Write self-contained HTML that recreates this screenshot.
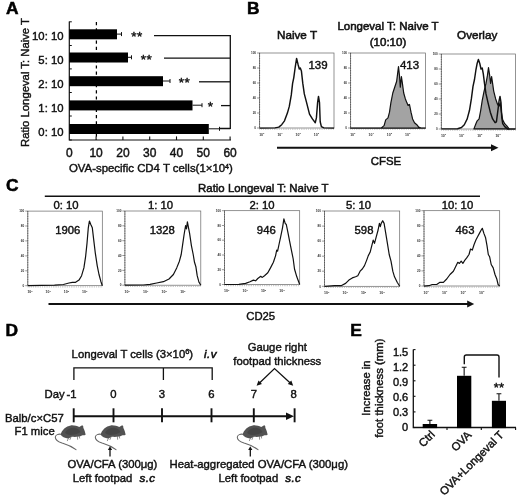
<!DOCTYPE html>
<html><head><meta charset="utf-8"><title>Figure</title>
<style>
html,body{margin:0;padding:0;background:#fff;}
svg{display:block}
text{font-family:"Liberation Sans", Arial, sans-serif;fill:#111;stroke:#111;stroke-width:0.42px;}
.b{font-weight:bold}
.i{font-style:italic}
.t{font-size:11.3px}
.pl{font-size:16.4px;font-weight:bold;fill:#000;stroke:#000;stroke-width:0.5px}
.tiny{font-size:3.5px;fill:#333;stroke:none;font-weight:bold}
.ln{stroke:#111;fill:none}
</style></head><body>
<svg width="520" height="495" viewBox="0 0 520 495">
<rect width="520" height="495" fill="#fff"/>

<g id="panelA">
<text class="pl" transform="translate(5.9,13.6) scale(1.06,1)">A</text>
<path class="ln" stroke-width="1.2" d="M69.3,21.5 V140 H231"/>
<path class="ln" stroke-width="1" d="M69.3,21.8 h2.5"/>
<path class="ln" stroke-width="1" d="M69.3,45.5 h2.5"/>
<path class="ln" stroke-width="1" d="M69.3,68.9 h2.5"/>
<path class="ln" stroke-width="1" d="M69.3,92.5 h2.5"/>
<path class="ln" stroke-width="1" d="M69.3,116 h2.5"/>
<path class="ln" stroke-width="1" d="M69.3,140 h2.5"/>
<path class="ln" style="stroke:#000" stroke-width="1.25" stroke-dasharray="3.2,3" d="M96.4,22.0 V140"/>
<rect x="69.3" y="29.3" width="47.7" height="10" fill="#000"/>
<path class="ln" stroke-width="1" d="M117,34.1 H121.5 M121.5,32.1 v4"/>
<text x="63.5" y="39.95" text-anchor="end" style="font-size:11.3px">10: 10</text>
<rect x="69.3" y="52.5" width="58.7" height="10" fill="#000"/>
<path class="ln" stroke-width="1" d="M128,57.3 H131.5 M131.5,55.3 v4"/>
<text x="63.5" y="63.85" text-anchor="end" style="font-size:11.3px">5: 10</text>
<rect x="69.3" y="76.2" width="93.7" height="10" fill="#000"/>
<path class="ln" stroke-width="1" d="M163,81 H170 M170,79 v4"/>
<text x="63.5" y="87.75" text-anchor="end" style="font-size:11.3px">2: 10</text>
<rect x="69.3" y="100.4" width="123.2" height="10" fill="#000"/>
<path class="ln" stroke-width="1" d="M192.5,105.2 H202 M202,103.2 v4"/>
<text x="63.5" y="111.65" text-anchor="end" style="font-size:11.3px">1: 10</text>
<rect x="69.3" y="124.00000000000001" width="139.5" height="10" fill="#000"/>
<path class="ln" stroke-width="1" d="M208.8,128.8 H219.5 M219.5,126.80000000000001 v4"/>
<text x="63.5" y="135.55" text-anchor="end" style="font-size:11.3px">0: 10</text>
<text x="137" y="41.300000000000004" text-anchor="middle" style="font-size:13.5px;letter-spacing:0.4px">**</text>
<path class="ln" stroke-width="1.3" d="M154,35.7 H230.3"/>
<text x="146.5" y="63.7" text-anchor="middle" style="font-size:13.5px;letter-spacing:0.4px">**</text>
<path class="ln" stroke-width="1.3" d="M164,58.1 H230.3"/>
<text x="184.5" y="87.39999999999999" text-anchor="middle" style="font-size:13.5px;letter-spacing:0.4px">**</text>
<path class="ln" stroke-width="1.3" d="M199,81.8 H230.3"/>
<text x="210.5" y="111.19999999999999" text-anchor="middle" style="font-size:13.5px;letter-spacing:0.4px">*</text>
<path class="ln" stroke-width="1.3" d="M221,105.6 H230.3"/>
<path class="ln" stroke-width="1.3" d="M219.5,128.5 H230.3 M230.3,35 V129.1"/>
<path class="ln" stroke-width="1.1" d="M96.1,140 v-3.6"/>
<path class="ln" stroke-width="1.1" d="M122.9,140 v-3.6"/>
<path class="ln" stroke-width="1.1" d="M149.7,140 v-3.6"/>
<path class="ln" stroke-width="1.1" d="M176.5,140 v-3.6"/>
<path class="ln" stroke-width="1.1" d="M203.3,140 v-3.6"/>
<path class="ln" stroke-width="1.1" d="M230.1,140 v-3.6"/>
<text x="69.3" y="156.9" text-anchor="middle" style="font-size:12px">0</text>
<text x="96.1" y="156.9" text-anchor="middle" style="font-size:12px">10</text>
<text x="122.9" y="156.9" text-anchor="middle" style="font-size:12px">20</text>
<text x="149.7" y="156.9" text-anchor="middle" style="font-size:12px">30</text>
<text x="176.5" y="156.9" text-anchor="middle" style="font-size:12px">40</text>
<text x="203.3" y="156.9" text-anchor="middle" style="font-size:12px">50</text>
<text x="230.1" y="156.9" text-anchor="middle" style="font-size:12px">60</text>
<text x="69" y="172" style="font-size:11.4px">OVA-specific CD4 T cells(1×10<tspan dy="-3.5" style="font-size:7px">4</tspan><tspan dy="3.5">)</tspan></text>
<text transform="translate(28.7,82.5) rotate(-90)" text-anchor="middle" style="font-size:11.3px">Ratio Longeval T: Naive T</text>
</g>
<g id="panelB">
<text class="pl" transform="translate(247,14.3) scale(1.06,1)">B</text>
<rect x="259.6" y="53" width="74.39999999999998" height="75" fill="none" stroke="#666" stroke-width="0.7"/>
<path d="M259.6,53 V128" stroke="#444" stroke-width="0.9" stroke-dasharray="0.8,0.9" fill="none"/>
<text class="tiny" x="256.1" y="54.2" text-anchor="end" style="font-size:3.1px">100</text>
<path d="M257.0,53.0 h2.6" stroke="#555" stroke-width="0.6"/>
<text class="tiny" x="256.1" y="69.2" text-anchor="end" style="font-size:3.1px">80</text>
<path d="M257.0,68.0 h2.6" stroke="#555" stroke-width="0.6"/>
<text class="tiny" x="256.1" y="84.2" text-anchor="end" style="font-size:3.1px">60</text>
<path d="M257.0,83.0 h2.6" stroke="#555" stroke-width="0.6"/>
<text class="tiny" x="256.1" y="99.2" text-anchor="end" style="font-size:3.1px">40</text>
<path d="M257.0,98.0 h2.6" stroke="#555" stroke-width="0.6"/>
<text class="tiny" x="256.1" y="114.2" text-anchor="end" style="font-size:3.1px">20</text>
<path d="M257.0,113.0 h2.6" stroke="#555" stroke-width="0.6"/>
<text class="tiny" x="256.1" y="129.2" text-anchor="end" style="font-size:3.1px">0</text>
<path d="M257.0,128.0 h2.6" stroke="#555" stroke-width="0.6"/>
<path d="M259.6,129.1 H334" stroke="#999" stroke-width="1.3" stroke-dasharray="0.5,1.3" fill="none"/>
<text class="tiny" x="261.8" y="135.6" text-anchor="middle">10<tspan dy="-1.3" style="font-size:2.4px">0</tspan></text>
<text class="tiny" x="280.0" y="135.6" text-anchor="middle">10<tspan dy="-1.3" style="font-size:2.4px">1</tspan></text>
<text class="tiny" x="298.2" y="135.6" text-anchor="middle">10<tspan dy="-1.3" style="font-size:2.4px">2</tspan></text>
<text class="tiny" x="316.4" y="135.6" text-anchor="middle">10<tspan dy="-1.3" style="font-size:2.4px">3</tspan></text>
<rect x="350.6" y="53" width="74.79999999999995" height="75" fill="none" stroke="#666" stroke-width="0.7"/>
<path d="M350.6,53 V128" stroke="#444" stroke-width="0.9" stroke-dasharray="0.8,0.9" fill="none"/>
<text class="tiny" x="347.1" y="54.2" text-anchor="end" style="font-size:3.1px">100</text>
<path d="M348.0,53.0 h2.6" stroke="#555" stroke-width="0.6"/>
<text class="tiny" x="347.1" y="69.2" text-anchor="end" style="font-size:3.1px">80</text>
<path d="M348.0,68.0 h2.6" stroke="#555" stroke-width="0.6"/>
<text class="tiny" x="347.1" y="84.2" text-anchor="end" style="font-size:3.1px">60</text>
<path d="M348.0,83.0 h2.6" stroke="#555" stroke-width="0.6"/>
<text class="tiny" x="347.1" y="99.2" text-anchor="end" style="font-size:3.1px">40</text>
<path d="M348.0,98.0 h2.6" stroke="#555" stroke-width="0.6"/>
<text class="tiny" x="347.1" y="114.2" text-anchor="end" style="font-size:3.1px">20</text>
<path d="M348.0,113.0 h2.6" stroke="#555" stroke-width="0.6"/>
<text class="tiny" x="347.1" y="129.2" text-anchor="end" style="font-size:3.1px">0</text>
<path d="M348.0,128.0 h2.6" stroke="#555" stroke-width="0.6"/>
<path d="M350.6,129.1 H425.4" stroke="#999" stroke-width="1.3" stroke-dasharray="0.5,1.3" fill="none"/>
<text class="tiny" x="352.8" y="135.6" text-anchor="middle">10<tspan dy="-1.3" style="font-size:2.4px">0</tspan></text>
<text class="tiny" x="371.1" y="135.6" text-anchor="middle">10<tspan dy="-1.3" style="font-size:2.4px">1</tspan></text>
<text class="tiny" x="389.4" y="135.6" text-anchor="middle">10<tspan dy="-1.3" style="font-size:2.4px">2</tspan></text>
<text class="tiny" x="407.7" y="135.6" text-anchor="middle">10<tspan dy="-1.3" style="font-size:2.4px">3</tspan></text>
<rect x="441.3" y="54" width="74.30000000000001" height="75" fill="none" stroke="#666" stroke-width="0.7"/>
<path d="M441.3,54 V129" stroke="#444" stroke-width="0.9" stroke-dasharray="0.8,0.9" fill="none"/>
<text class="tiny" x="437.8" y="55.2" text-anchor="end" style="font-size:3.1px">100</text>
<path d="M438.7,54.0 h2.6" stroke="#555" stroke-width="0.6"/>
<text class="tiny" x="437.8" y="70.2" text-anchor="end" style="font-size:3.1px">80</text>
<path d="M438.7,69.0 h2.6" stroke="#555" stroke-width="0.6"/>
<text class="tiny" x="437.8" y="85.2" text-anchor="end" style="font-size:3.1px">60</text>
<path d="M438.7,84.0 h2.6" stroke="#555" stroke-width="0.6"/>
<text class="tiny" x="437.8" y="100.2" text-anchor="end" style="font-size:3.1px">40</text>
<path d="M438.7,99.0 h2.6" stroke="#555" stroke-width="0.6"/>
<text class="tiny" x="437.8" y="115.2" text-anchor="end" style="font-size:3.1px">20</text>
<path d="M438.7,114.0 h2.6" stroke="#555" stroke-width="0.6"/>
<text class="tiny" x="437.8" y="130.2" text-anchor="end" style="font-size:3.1px">0</text>
<path d="M438.7,129.0 h2.6" stroke="#555" stroke-width="0.6"/>
<path d="M441.3,130.1 H515.6" stroke="#999" stroke-width="1.3" stroke-dasharray="0.5,1.3" fill="none"/>
<text class="tiny" x="443.5" y="136.6" text-anchor="middle">10<tspan dy="-1.3" style="font-size:2.4px">0</tspan></text>
<text class="tiny" x="461.7" y="136.6" text-anchor="middle">10<tspan dy="-1.3" style="font-size:2.4px">1</tspan></text>
<text class="tiny" x="479.8" y="136.6" text-anchor="middle">10<tspan dy="-1.3" style="font-size:2.4px">2</tspan></text>
<text class="tiny" x="498.0" y="136.6" text-anchor="middle">10<tspan dy="-1.3" style="font-size:2.4px">3</tspan></text>
<polyline class="ln" stroke-width="1.45" stroke-linejoin="round" points="259.6,128.1 275.0,127.9 278.8,127.1 281.7,124.7 284.5,120.8 287.4,113.1 289.3,106.4 291.3,94.9 292.6,83.4 293.8,77.6 295.1,68.0 296.6,58.4 298.0,64.2 299.3,69.0 300.3,68.0 301.4,70.9 302.8,83.4 304.3,93.9 306.6,102.6 309.5,114.1 312.4,118.9 315.3,122.7 316.4,117.9 317.6,102.6 318.5,96.4 319.5,102.6 320.2,121.8 321.4,126.6 323.9,127.9 334.1,128.1"/>
<polygon fill="#a3a3a3" stroke="#111" stroke-width="1.2" stroke-linejoin="round" points="350.6,128.1 381.3,127.9 384.1,125.6 385.7,119.9 388.0,117.9 389.5,112.2 390.9,102.6 392.8,93.0 394.7,87.2 396.6,81.5 397.6,73.8 398.5,66.5 399.5,75.7 400.3,87.2 401.4,76.7 402.4,83.4 403.7,93.0 405.3,98.7 406.8,102.6 408.1,105.5 409.5,104.5 411.0,112.2 412.6,118.9 414.5,122.7 416.8,124.7 418.7,127.1 420.6,127.9 425.4,128.1"/>
<polygon fill="#a3a3a3" stroke="#111" stroke-width="1.2" stroke-linejoin="round" points="473.9,128.9 475.9,123.7 477.2,120.8 479.1,118.9 480.7,110.3 482.2,100.7 484.1,91.1 486.0,83.4 487.4,75.7 488.5,67.6 489.7,75.7 490.6,83.4 491.6,76.7 492.6,83.4 493.7,91.1 495.6,98.7 497.6,104.5 498.9,106.4 500.2,102.6 501.4,112.2 502.7,119.9 504.7,123.7 506.6,125.6 509.1,128.9"/>
<polyline class="ln" stroke-width="1.45" stroke-linejoin="round" points="441.3,128.9 457.6,128.7 461.5,127.5 464.3,124.7 467.2,118.9 469.5,110.3 471.4,98.7 473.0,86.3 474.5,79.5 475.9,70.0 477.2,63.2 478.4,59.4 479.7,63.2 481.0,69.0 482.2,68.0 483.3,73.8 484.5,83.4 486.0,93.9 488.0,102.6 490.3,112.2 492.6,118.9 495.1,122.7 496.4,121.8 497.9,110.3 499.1,100.7 500.0,96.4 501.0,102.6 501.8,117.9 502.7,123.7 504.7,126.6 507.5,128.9 515.6,128.9"/>
<text x="297" y="39" text-anchor="middle" style="font-size:11.7px;stroke-width:0.55px">Naive T</text>
<text x="388" y="30" text-anchor="middle" style="font-size:11.5px;stroke-width:0.55px">Longeval T: Naive T</text>
<text x="388" y="46" text-anchor="middle" style="font-size:11.5px;stroke-width:0.55px">(10:10)</text>
<text x="477.2" y="39" text-anchor="middle" style="font-size:11.7px;stroke-width:0.55px">Overlay</text>
<text x="318" y="68.6" text-anchor="middle" style="font-size:11.5px">139</text>
<text x="409.5" y="69" text-anchor="middle" style="font-size:11.5px">413</text>
<path d="M277,147.8 H492" stroke="#111" stroke-width="2" fill="none"/><path d="M498.5,147.8 l-7.5,-3.5 v7 z" fill="#111"/>
<text x="386" y="164.8" text-anchor="middle" style="font-size:11.4px;stroke-width:0.5px">CFSE</text>
</g>
<g id="panelC">
<text class="pl" transform="translate(5.9,191) scale(1.06,1)">C</text>
<path d="M44.8,196.2 H480" stroke="#111" stroke-width="1.4"/>
<text x="263.3" y="191.6" text-anchor="middle" style="font-size:11.45px;stroke-width:0.5px">Ratio Longeval T: Naive T</text>
<rect x="27.8" y="211.1" width="74.5" height="74.6" fill="none" stroke="#666" stroke-width="0.7"/>
<path d="M27.8,211.1 V285.7" stroke="#444" stroke-width="0.9" stroke-dasharray="0.8,0.9" fill="none"/>
<text class="tiny" x="24.3" y="212.3" text-anchor="end" style="font-size:3.1px">100</text>
<path d="M25.2,211.1 h2.6" stroke="#555" stroke-width="0.6"/>
<text class="tiny" x="24.3" y="227.2" text-anchor="end" style="font-size:3.1px">80</text>
<path d="M25.2,226.0 h2.6" stroke="#555" stroke-width="0.6"/>
<text class="tiny" x="24.3" y="242.1" text-anchor="end" style="font-size:3.1px">60</text>
<path d="M25.2,240.9 h2.6" stroke="#555" stroke-width="0.6"/>
<text class="tiny" x="24.3" y="257.1" text-anchor="end" style="font-size:3.1px">40</text>
<path d="M25.2,255.9 h2.6" stroke="#555" stroke-width="0.6"/>
<text class="tiny" x="24.3" y="272.0" text-anchor="end" style="font-size:3.1px">20</text>
<path d="M25.2,270.8 h2.6" stroke="#555" stroke-width="0.6"/>
<text class="tiny" x="24.3" y="286.9" text-anchor="end" style="font-size:3.1px">0</text>
<path d="M25.2,285.7 h2.6" stroke="#555" stroke-width="0.6"/>
<path d="M27.8,286.8 H102.3" stroke="#999" stroke-width="1.3" stroke-dasharray="0.5,1.3" fill="none"/>
<text class="tiny" x="30.0" y="293.3" text-anchor="middle">10<tspan dy="-1.3" style="font-size:2.4px">0</tspan></text>
<text class="tiny" x="48.2" y="293.3" text-anchor="middle">10<tspan dy="-1.3" style="font-size:2.4px">1</tspan></text>
<text class="tiny" x="66.4" y="293.3" text-anchor="middle">10<tspan dy="-1.3" style="font-size:2.4px">2</tspan></text>
<text class="tiny" x="84.6" y="293.3" text-anchor="middle">10<tspan dy="-1.3" style="font-size:2.4px">3</tspan></text>
<polyline class="ln" stroke-width="1.2" stroke-linejoin="round" points="27.8,285.7 54.5,285.2 63.4,284.5 69.0,283.0 72.3,282.3 75.6,282.3 79.0,280.1 81.6,275.7 83.9,267.9 85.6,256.7 87.0,243.4 88.3,227.8 89.4,221.1 90.8,224.5 92.3,227.8 93.6,238.9 95.2,252.3 97.2,265.6 99.0,274.5 100.8,281.2 102.3,285.7"/>
<text x="66" y="208.8" text-anchor="middle" style="font-size:11.3px">0: 10</text>
<text x="67.8" y="234" text-anchor="middle" style="font-size:11.3px">1906</text>
<rect x="124.9" y="211" width="75.9" height="74.19999999999999" fill="none" stroke="#666" stroke-width="0.7"/>
<path d="M124.9,211 V285.2" stroke="#444" stroke-width="0.9" stroke-dasharray="0.8,0.9" fill="none"/>
<text class="tiny" x="121.4" y="212.2" text-anchor="end" style="font-size:3.1px">100</text>
<path d="M122.30000000000001,211.0 h2.6" stroke="#555" stroke-width="0.6"/>
<text class="tiny" x="121.4" y="227.0" text-anchor="end" style="font-size:3.1px">80</text>
<path d="M122.30000000000001,225.8 h2.6" stroke="#555" stroke-width="0.6"/>
<text class="tiny" x="121.4" y="241.9" text-anchor="end" style="font-size:3.1px">60</text>
<path d="M122.30000000000001,240.7 h2.6" stroke="#555" stroke-width="0.6"/>
<text class="tiny" x="121.4" y="256.7" text-anchor="end" style="font-size:3.1px">40</text>
<path d="M122.30000000000001,255.5 h2.6" stroke="#555" stroke-width="0.6"/>
<text class="tiny" x="121.4" y="271.6" text-anchor="end" style="font-size:3.1px">20</text>
<path d="M122.30000000000001,270.4 h2.6" stroke="#555" stroke-width="0.6"/>
<text class="tiny" x="121.4" y="286.4" text-anchor="end" style="font-size:3.1px">0</text>
<path d="M122.30000000000001,285.2 h2.6" stroke="#555" stroke-width="0.6"/>
<path d="M124.9,286.3 H200.8" stroke="#999" stroke-width="1.3" stroke-dasharray="0.5,1.3" fill="none"/>
<text class="tiny" x="127.1" y="292.8" text-anchor="middle">10<tspan dy="-1.3" style="font-size:2.4px">0</tspan></text>
<text class="tiny" x="145.7" y="292.8" text-anchor="middle">10<tspan dy="-1.3" style="font-size:2.4px">1</tspan></text>
<text class="tiny" x="164.2" y="292.8" text-anchor="middle">10<tspan dy="-1.3" style="font-size:2.4px">2</tspan></text>
<text class="tiny" x="182.8" y="292.8" text-anchor="middle">10<tspan dy="-1.3" style="font-size:2.4px">3</tspan></text>
<polyline class="ln" stroke-width="1.2" stroke-linejoin="round" points="124.9,285.2 143.4,285.0 150.0,284.3 156.7,283.0 163.4,281.7 169.0,279.0 173.4,274.5 176.7,267.9 179.4,261.2 181.2,254.5 182.5,245.6 184.1,234.5 185.6,225.6 186.5,228.9 187.4,221.8 188.3,226.7 189.6,233.4 191.4,245.6 193.2,254.5 194.5,262.3 195.9,266.8 197.2,275.7 199.0,282.3 200.8,285.2"/>
<text x="160.5" y="208.8" text-anchor="middle" style="font-size:11.3px">1: 10</text>
<text x="162.3" y="234" text-anchor="middle" style="font-size:11.3px">1328</text>
<rect x="224.5" y="210.7" width="75.19999999999999" height="73.80000000000001" fill="none" stroke="#666" stroke-width="0.7"/>
<path d="M224.5,210.7 V284.5" stroke="#444" stroke-width="0.9" stroke-dasharray="0.8,0.9" fill="none"/>
<text class="tiny" x="221.0" y="211.9" text-anchor="end" style="font-size:3.1px">100</text>
<path d="M221.9,210.7 h2.6" stroke="#555" stroke-width="0.6"/>
<text class="tiny" x="221.0" y="226.7" text-anchor="end" style="font-size:3.1px">80</text>
<path d="M221.9,225.5 h2.6" stroke="#555" stroke-width="0.6"/>
<text class="tiny" x="221.0" y="241.4" text-anchor="end" style="font-size:3.1px">60</text>
<path d="M221.9,240.2 h2.6" stroke="#555" stroke-width="0.6"/>
<text class="tiny" x="221.0" y="256.2" text-anchor="end" style="font-size:3.1px">40</text>
<path d="M221.9,255.0 h2.6" stroke="#555" stroke-width="0.6"/>
<text class="tiny" x="221.0" y="270.9" text-anchor="end" style="font-size:3.1px">20</text>
<path d="M221.9,269.7 h2.6" stroke="#555" stroke-width="0.6"/>
<text class="tiny" x="221.0" y="285.7" text-anchor="end" style="font-size:3.1px">0</text>
<path d="M221.9,284.5 h2.6" stroke="#555" stroke-width="0.6"/>
<path d="M224.5,285.6 H299.7" stroke="#999" stroke-width="1.3" stroke-dasharray="0.5,1.3" fill="none"/>
<text class="tiny" x="226.7" y="292.1" text-anchor="middle">10<tspan dy="-1.3" style="font-size:2.4px">0</tspan></text>
<text class="tiny" x="245.1" y="292.1" text-anchor="middle">10<tspan dy="-1.3" style="font-size:2.4px">1</tspan></text>
<text class="tiny" x="263.5" y="292.1" text-anchor="middle">10<tspan dy="-1.3" style="font-size:2.4px">2</tspan></text>
<text class="tiny" x="281.9" y="292.1" text-anchor="middle">10<tspan dy="-1.3" style="font-size:2.4px">3</tspan></text>
<polyline class="ln" stroke-width="1.2" stroke-linejoin="round" points="224.5,284.5 238.9,284.3 245.6,283.4 250.0,281.7 253.4,280.1 255.6,280.8 257.8,278.5 260.7,276.3 262.3,277.4 264.5,275.7 267.8,272.8 270.5,267.9 273.4,262.3 275.6,255.6 276.7,250.1 277.6,251.2 279.0,244.5 280.7,236.7 282.5,227.8 283.9,218.9 285.2,223.4 286.3,224.5 287.9,232.3 289.6,241.2 291.4,250.1 293.2,259.0 294.5,269.0 296.8,276.8 299.7,284.5"/>
<text x="262" y="208.8" text-anchor="middle" style="font-size:11.3px">2: 10</text>
<text x="266.3" y="234" text-anchor="middle" style="font-size:11.3px">946</text>
<rect x="324.5" y="211" width="75.19999999999999" height="75.30000000000001" fill="none" stroke="#666" stroke-width="0.7"/>
<path d="M324.5,211 V286.3" stroke="#444" stroke-width="0.9" stroke-dasharray="0.8,0.9" fill="none"/>
<text class="tiny" x="321.0" y="212.2" text-anchor="end" style="font-size:3.1px">100</text>
<path d="M321.9,211.0 h2.6" stroke="#555" stroke-width="0.6"/>
<text class="tiny" x="321.0" y="227.3" text-anchor="end" style="font-size:3.1px">80</text>
<path d="M321.9,226.1 h2.6" stroke="#555" stroke-width="0.6"/>
<text class="tiny" x="321.0" y="242.3" text-anchor="end" style="font-size:3.1px">60</text>
<path d="M321.9,241.1 h2.6" stroke="#555" stroke-width="0.6"/>
<text class="tiny" x="321.0" y="257.4" text-anchor="end" style="font-size:3.1px">40</text>
<path d="M321.9,256.2 h2.6" stroke="#555" stroke-width="0.6"/>
<text class="tiny" x="321.0" y="272.4" text-anchor="end" style="font-size:3.1px">20</text>
<path d="M321.9,271.2 h2.6" stroke="#555" stroke-width="0.6"/>
<text class="tiny" x="321.0" y="287.5" text-anchor="end" style="font-size:3.1px">0</text>
<path d="M321.9,286.3 h2.6" stroke="#555" stroke-width="0.6"/>
<path d="M324.5,287.40000000000003 H399.7" stroke="#999" stroke-width="1.3" stroke-dasharray="0.5,1.3" fill="none"/>
<text class="tiny" x="326.7" y="293.90000000000003" text-anchor="middle">10<tspan dy="-1.3" style="font-size:2.4px">0</tspan></text>
<text class="tiny" x="345.1" y="293.90000000000003" text-anchor="middle">10<tspan dy="-1.3" style="font-size:2.4px">1</tspan></text>
<text class="tiny" x="363.5" y="293.90000000000003" text-anchor="middle">10<tspan dy="-1.3" style="font-size:2.4px">2</tspan></text>
<text class="tiny" x="381.9" y="293.90000000000003" text-anchor="middle">10<tspan dy="-1.3" style="font-size:2.4px">3</tspan></text>
<polyline class="ln" stroke-width="1.2" stroke-linejoin="round" points="324.5,286.3 334.5,285.7 341.1,285.7 345.6,283.4 348.9,280.1 352.3,277.9 355.6,276.8 357.8,275.7 360.1,271.2 362.3,269.0 364.5,265.6 366.7,260.1 368.3,255.6 370.1,252.3 371.8,245.6 373.2,240.1 374.5,243.4 376.3,236.7 378.1,230.0 379.4,223.4 380.3,226.7 381.2,223.4 382.7,220.7 384.1,223.4 385.6,232.3 387.4,243.4 389.2,254.5 391.0,261.2 392.8,271.2 394.5,276.8 397.2,282.3 399.7,286.3"/>
<text x="358.5" y="208.8" text-anchor="middle" style="font-size:11.3px">5: 10</text>
<text x="364" y="234" text-anchor="middle" style="font-size:11.3px">598</text>
<rect x="424" y="210.7" width="75.69999999999999" height="75.30000000000001" fill="none" stroke="#666" stroke-width="0.7"/>
<path d="M424,210.7 V286" stroke="#444" stroke-width="0.9" stroke-dasharray="0.8,0.9" fill="none"/>
<text class="tiny" x="420.5" y="211.9" text-anchor="end" style="font-size:3.1px">100</text>
<path d="M421.4,210.7 h2.6" stroke="#555" stroke-width="0.6"/>
<text class="tiny" x="420.5" y="227.0" text-anchor="end" style="font-size:3.1px">80</text>
<path d="M421.4,225.8 h2.6" stroke="#555" stroke-width="0.6"/>
<text class="tiny" x="420.5" y="242.0" text-anchor="end" style="font-size:3.1px">60</text>
<path d="M421.4,240.8 h2.6" stroke="#555" stroke-width="0.6"/>
<text class="tiny" x="420.5" y="257.1" text-anchor="end" style="font-size:3.1px">40</text>
<path d="M421.4,255.9 h2.6" stroke="#555" stroke-width="0.6"/>
<text class="tiny" x="420.5" y="272.1" text-anchor="end" style="font-size:3.1px">20</text>
<path d="M421.4,270.9 h2.6" stroke="#555" stroke-width="0.6"/>
<text class="tiny" x="420.5" y="287.2" text-anchor="end" style="font-size:3.1px">0</text>
<path d="M421.4,286.0 h2.6" stroke="#555" stroke-width="0.6"/>
<path d="M424,287.1 H499.7" stroke="#999" stroke-width="1.3" stroke-dasharray="0.5,1.3" fill="none"/>
<text class="tiny" x="426.2" y="293.6" text-anchor="middle">10<tspan dy="-1.3" style="font-size:2.4px">0</tspan></text>
<text class="tiny" x="444.7" y="293.6" text-anchor="middle">10<tspan dy="-1.3" style="font-size:2.4px">1</tspan></text>
<text class="tiny" x="463.2" y="293.6" text-anchor="middle">10<tspan dy="-1.3" style="font-size:2.4px">2</tspan></text>
<text class="tiny" x="481.7" y="293.6" text-anchor="middle">10<tspan dy="-1.3" style="font-size:2.4px">3</tspan></text>
<polyline class="ln" stroke-width="1.2" stroke-linejoin="round" points="424.0,286.1 428.9,285.7 432.2,284.5 436.7,284.5 440.0,282.3 443.4,282.3 446.7,279.0 450.0,274.5 453.4,271.2 455.6,266.8 457.8,262.3 459.4,263.4 461.2,261.2 462.9,263.4 464.5,260.7 466.7,257.9 469.0,254.5 470.5,249.0 472.3,250.1 474.1,244.5 475.9,240.1 477.6,236.7 479.4,233.4 481.2,230.0 482.3,228.3 483.9,233.4 485.6,237.8 487.0,245.6 488.3,254.5 489.6,256.7 491.2,264.5 493.2,267.9 495.0,274.5 496.8,279.0 498.1,284.5 499.7,286.1"/>
<text x="457.5" y="208.8" text-anchor="middle" style="font-size:11.3px">10: 10</text>
<text x="465" y="234" text-anchor="middle" style="font-size:11.3px">463</text>
<path d="M48.5,304 H468.5" stroke="#111" stroke-width="1.8" fill="none"/><path d="M474.2,304 l-7,-3.4 v6.8 z" fill="#111"/>
<text x="260.7" y="320" text-anchor="middle" style="font-size:11.3px">CD25</text>
</g>
<g id="panelD">
<text class="pl" transform="translate(5.5,336.3) scale(1.06,1)">D</text>
<text x="71.6" y="357.5" style="font-size:11.3px">Longeval T cells (3×10<tspan dy="-3.2" style="font-size:7.5px">6</tspan><tspan dy="3.2">)</tspan></text>
<text x="204" y="357.5" class="i" style="font-size:11.5px;letter-spacing:0.45px;stroke-width:0.6px">i.v</text>
<path class="ln" stroke-width="1.3" d="M73.9,380 V367.8 H212.2 V380 M163.4,367.8 V380"/>
<text x="44.6" y="398" style="font-size:11.3px">Day</text><text x="76.6" y="398" text-anchor="end" style="font-size:11.3px">-1</text>
<text x="113.5" y="398" text-anchor="middle" style="font-size:11.3px">0</text>
<text x="162" y="398" text-anchor="middle" style="font-size:11.3px">3</text>
<text x="211.5" y="398" text-anchor="middle" style="font-size:11.3px">6</text>
<text x="253.8" y="398" text-anchor="middle" style="font-size:11.3px">7</text>
<text x="293.6" y="398" text-anchor="middle" style="font-size:11.3px">8</text>
<text x="277.3" y="350.5" text-anchor="middle" style="font-size:11.3px">Gauge right</text>
<text x="277.3" y="364.5" text-anchor="middle" style="font-size:11.3px">footpad thickness</text>
<path class="ln" stroke-width="1.3" d="M258.2,384.2 L274.5,368.6 L291.6,384.2"/>
<path d="M256.6,385.8 l5.4,-1.7 l-3.5,-3.6 z M293.2,385.8 l-5.4,-1.7 l3.5,-3.6 z" fill="#111"/>
<path class="ln" stroke-width="2.1" d="M73.7,416.3 H290"/>
<path class="ln" stroke-width="1.9" d="M73.7,408.3 V422.3"/>
<path class="ln" stroke-width="1.9" d="M113.5,408.3 V422.3"/>
<path class="ln" stroke-width="1.9" d="M162,408.3 V422.3"/>
<path class="ln" stroke-width="1.9" d="M211.5,408.3 V422.3"/>
<path class="ln" stroke-width="1.9" d="M253.8,408.3 V422.3"/>
<path class="ln" stroke-width="1.9" d="M294.6,408.3 V422.3"/><path d="M294,416.3 l-8,-3.8 v7.6 z" fill="#111"/>
<text x="5" y="421.5" style="font-size:11.3px">Balb/c×C57</text>
<text x="14.5" y="434.5" style="font-size:11.3px">F1 mice</text>
<defs><g id="mouse">
<path d="M5.8,9.7 C3.5,9.3 0.5,10.3 0.3,12.5 C0.2,15 3,17.2 7,18.6 C11,19.8 15,20.8 21,25.2" fill="none" stroke="#666" stroke-width="1.05" stroke-linecap="round"/>
<path d="M13.6,13 L12.4,16.2 M16,12.4 L15,15 M22.4,12 L22.6,14.8 M24.2,11.6 L24.6,13.6" fill="none" stroke="#777" stroke-width="0.8" stroke-linecap="round"/>
<path d="M5.6,10 C6.8,5.5 11,1.5 15.8,0.9 C19,0.6 22,1.6 24.2,2.4 L27.2,0.7 C28.2,1 28.5,2.2 28.3,3.2 C29.5,5.5 30.3,8 30.6,10.2 C29.5,10.9 28.5,10.8 27.5,10.7 C26,11.4 24.5,11.9 23.5,12.1 C21,12.5 19,12.4 16.6,12.3 C15.5,13.2 14.4,13.8 13.2,14 C10,13.6 6.6,12.4 5.6,10 Z" fill="#525252"/>
<path d="M10,8 C12,5 15,3.2 19,3.2 C22,3.4 24,5 25.5,7.5 C23,9.5 19,10.5 15,10.5 C13,10.4 11,9.6 10,8 Z" fill="#404040" opacity="0.7"/>
</g></defs>
<use href="#mouse" x="55" y="424.5"/>
<use href="#mouse" x="95" y="424.5"/>
<use href="#mouse" x="237" y="424.5"/>
<path class="ln" stroke-width="1.3" d="M110,456.5 V449"/><path d="M110,446.3 l-2.1,3.6 h4.2 z" fill="#111"/>
<path class="ln" stroke-width="1.3" d="M250.3,456.5 V449"/><path d="M250.3,446.3 l-2.1,3.6 h4.2 z" fill="#111"/>
<text x="67.5" y="468" style="font-size:11.3px">OVA/CFA (300μg)</text>
<text x="72.7" y="482" style="font-size:11.3px;white-space:pre">Left footpad  <tspan class="i" dx="0.8" style="font-size:11.5px;letter-spacing:0.45px;stroke-width:0.6px">s.c</tspan></text>
<text x="169.5" y="468" style="font-size:11.35px">Heat-aggregated OVA/CFA (300μg)</text>
<text x="218.5" y="482" style="font-size:11.3px;white-space:pre">Left footpad  <tspan class="i" dx="0.8" style="font-size:11.5px;letter-spacing:0.45px;stroke-width:0.6px">s.c</tspan></text>
</g>
<g id="panelE">
<text class="pl" transform="translate(350.3,336.3) scale(1.06,1)">E</text>
<path class="ln" stroke-width="1.3" d="M413.3,349.6 V427.5 H516"/>
<path class="ln" stroke-width="1.1" d="M413.3,349.6 h2.2"/>
<text x="408.2" y="355.6" text-anchor="end" style="font-size:11px">1.5</text>
<path class="ln" stroke-width="1.1" d="M413.3,365.2 h2.2"/>
<text x="408.2" y="370.7" text-anchor="end" style="font-size:11px">1.2</text>
<path class="ln" stroke-width="1.1" d="M413.3,380.8 h2.2"/>
<text x="408.2" y="385.8" text-anchor="end" style="font-size:11px">0.9</text>
<path class="ln" stroke-width="1.1" d="M413.3,396.3 h2.2"/>
<text x="408.2" y="400.9" text-anchor="end" style="font-size:11px">0.6</text>
<path class="ln" stroke-width="1.1" d="M413.3,411.9 h2.2"/>
<text x="408.2" y="415.9" text-anchor="end" style="font-size:11px">0.3</text>
<path class="ln" stroke-width="1.1" d="M413.3,427.5 h2.2"/>
<text x="408.2" y="431.1" text-anchor="end" style="font-size:11px">0</text>
<path class="ln" stroke-width="1.1" d="M447,427.5 v2.6"/>
<path class="ln" stroke-width="1.1" d="M481.3,427.5 v2.6"/>
<path class="ln" stroke-width="1.1" d="M515.6,427.5 v2.6"/>
<rect x="422.7" y="424" width="14.400000000000034" height="4.100000000000023" fill="#000"/>
<path class="ln" stroke-width="1.1" d="M429.9,424 V420.3 M427.5,420.3 h4.8"/>
<rect x="457" y="375.8" width="14.300000000000011" height="52.30000000000001" fill="#000"/>
<path class="ln" stroke-width="1.1" d="M464.15,375.8 V367.2 M461.75,367.2 h4.8"/>
<rect x="491.9" y="400.8" width="14.100000000000023" height="27.30000000000001" fill="#000"/>
<path class="ln" stroke-width="1.1" d="M498.95,400.8 V393.7 M496.55,393.7 h4.8"/>
<path class="ln" stroke-width="1.4" d="M464.3,364.3 V357 Q464.3,355 466.3,355 H497 Q499,355 499,357 V377.6"/>
<text x="499" y="391.7" text-anchor="middle" style="font-size:13px;letter-spacing:0.3px">**</text>
<text transform="translate(370.3,388) rotate(-90)" text-anchor="middle" style="font-size:11.3px">Increase in</text>
<text transform="translate(382.5,388.1) rotate(-90)" text-anchor="middle" style="font-size:11.4px">foot thickness (mm)</text>
<text transform="translate(435.6,435.2) rotate(-45)" text-anchor="end" style="font-size:11.3px">Ctrl</text>
<text transform="translate(472,435.6) rotate(-45)" text-anchor="end" style="font-size:11.3px">OVA</text>
<text transform="translate(504.5,435.6) rotate(-45)" text-anchor="end" style="font-size:11.3px">OVA+Longeval T</text>
</g>
</svg></body></html>
